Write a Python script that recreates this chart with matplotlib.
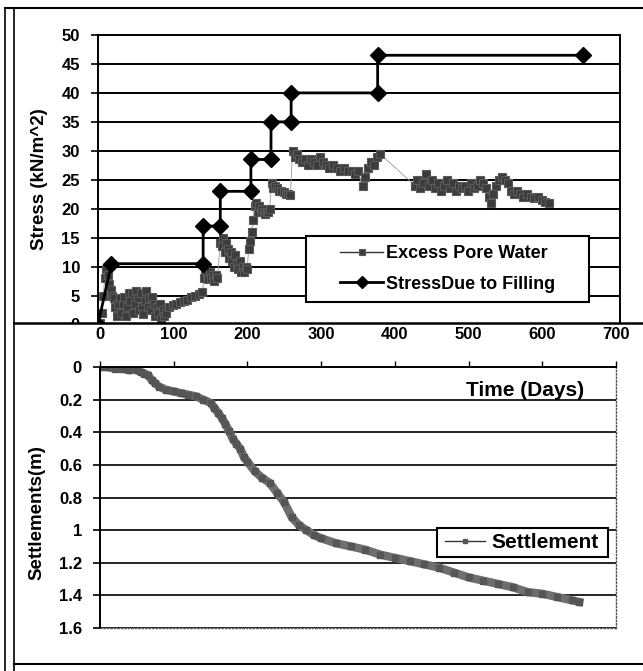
import matplotlib.pyplot as plt
from matplotlib.lines import Line2D
from matplotlib.patches import Rectangle

plt.rcParams['font.family'] = ['Liberation Sans', 'DejaVu Sans']
plt.rcParams['font.weight'] = 'bold'

# stress due to filling (stepped load history)
fill_days = [0, 18, 141, 141, 164, 164, 205, 205, 232, 232, 259, 259, 375, 375, 651]
fill_stress = [0, 10.5, 10.5, 17, 17, 23, 23, 28.5, 28.5, 35, 35, 40, 40, 46.5, 46.5]

# excess pore water pressure readings
pw_days = [0, 3, 5, 7, 9, 11, 13, 15, 17, 19,
           21, 23, 25, 27, 29, 31, 33, 35, 37, 39, 41, 43, 45, 47, 49, 51, 53, 55,
           57, 59, 61, 63, 65, 67, 69, 71, 73, 75, 77, 79, 81, 83, 85, 87, 89, 91,
           95, 100, 105, 110, 115, 120, 125, 130, 135, 140,
           142, 144, 146, 148, 150, 152, 154, 156, 158, 160,
           164, 166, 168, 170, 172, 174, 176, 178, 180, 182, 184, 186, 188, 190,
           192, 194, 196, 198, 200,
           202, 204, 206, 208, 210,
           212, 214, 216, 218, 220, 222, 224, 226, 228, 230,
           233, 235, 237, 240, 243, 246, 249, 252, 255, 258,
           261, 264, 267, 270, 274, 278, 282, 286, 290, 294, 298, 302, 306, 310,
           315, 320, 325, 330, 335, 340, 345, 348,
           355, 358, 362, 366, 370, 374, 378,
           425, 428, 432, 436, 440, 444, 448, 452, 456, 460, 464, 468, 472, 476,
           480, 484, 488, 492, 496, 500, 504, 508, 512, 516, 520, 524, 527, 530,
           534, 538, 542, 546, 550, 554, 558, 562, 566, 570, 575, 580, 585, 590,
           595, 600, 605]
pw_stress = [0, 0.3, 2, 5, 8, 9.5, 8.5, 7, 6, 5,
             4.5, 3, 1.5, 3.5, 4.5, 2, 3.5, 4.8, 1.5, 3, 5.5, 4, 5.5, 2, 3.5, 5.8, 4.5, 2.5,
             5.5, 3, 1.8, 4, 5.8, 3, 4.5, 2.5, 4.8, 3.5, 1.5, 3, 2, 3.5, 1, 2.5, 1.5, 2,
             3, 3.3, 3.6, 3.8, 4, 4.3, 4.8, 5, 5.3, 5.6,
             8, 9.5, 8.5, 7.8, 9, 8, 8.5, 7.5, 8.5, 8,
             14, 13.5, 15, 12.5, 14, 13, 11.5, 12.5, 11, 10, 12, 10.5, 9.5, 11,
             9, 10, 9, 10, 9.5,
             13, 14.5, 16, 18, 20.5,
             21, 19.5, 20.5, 19.5, 20, 19.5, 19, 19.5, 19.5, 20,
             24.5, 23.5, 24, 23.5, 23, 23, 22.8, 22.5, 22.5, 22.3,
             30, 29, 29.5, 28.5, 28, 28.5, 27.5, 28.5, 28, 27.5, 29, 28, 27.5, 27,
             27.5, 27, 26.5, 27, 26.5, 26.5, 26, 26.5,
             24, 25.5, 27, 28, 27.5, 29, 29.5,
             24, 25, 23.5, 24.5, 26, 24, 25, 23.5, 24.5, 23, 24, 25, 23.5, 24.5,
             23, 24, 23.5, 24, 23, 24.5, 23.5, 24, 25, 24.5, 23.5, 22, 21, 22.5,
             24, 25, 25.5, 25, 24.5, 23, 22.5, 23, 22.5, 22, 22.5, 22, 21.8, 22,
             21.5, 21.2, 21]

# settlement record
st_days = [0, 10, 20, 30, 40, 45, 50, 55, 60, 65, 70, 75, 80, 90, 100, 110, 120,
           130, 140, 150, 155, 160, 165, 170, 175, 180, 185, 190, 195, 200, 210,
           220, 230, 240, 250, 260, 270, 280, 290, 300, 320, 340, 360, 380, 400,
           420, 440, 460, 480, 500, 520, 540, 560, 580, 600, 620, 640, 650]
st_value = [0.0, 0.0, 0.01, 0.01, 0.02, 0.01, 0.02, 0.03, 0.04, 0.05, 0.08, 0.1,
            0.12, 0.14, 0.15, 0.16, 0.17, 0.18, 0.2, 0.22, 0.25, 0.28, 0.31, 0.35,
            0.39, 0.44, 0.47, 0.5, 0.55, 0.58, 0.64, 0.68, 0.71, 0.77, 0.83, 0.92,
            0.97, 1.0, 1.03, 1.05, 1.08, 1.1, 1.12, 1.15, 1.17, 1.19, 1.21, 1.23,
            1.26, 1.29, 1.31, 1.33, 1.35, 1.38, 1.39, 1.41, 1.43, 1.44]

stress_ticks = list(range(0, 51, 5))
settle_ticks = [0, 0.2, 0.4, 0.6, 0.8, 1, 1.2, 1.4, 1.6]
settle_labels = ['0', '0.2', '0.4', '0.6', '0.8', '1', '1.2', '1.4', '1.6']
day_ticks = list(range(0, 701, 100))

W, H = 643, 671
fig = plt.figure(figsize=(W / 100, H / 100), dpi=100)


def box(x0, y0, x1, y1):
    # pixel box (top-left origin) -> figure fraction rect
    return [x0 / W, 1 - y1 / H, (x1 - x0) / W, (y1 - y0) / H]


def fline(xs, ys, **kw):
    fig.add_artist(Line2D([x / W for x in xs], [1 - y / H for y in ys],
                          transform=fig.transFigure, **kw))


# ---- upper chart: stress ----
ax1 = fig.add_axes(box(98, 35, 620, 324.5))
ax1.set_zorder(0)
ax1.plot(pw_days, pw_stress, color='#999999', lw=0.6, marker='s', ms=6,
         mfc='#3c3c3c', mec='#5a5a5a', mew=0.8, label='Excess Pore Water')
ax1.plot(fill_days, fill_stress, color='black', lw=2, marker='D', ms=8,
         label='StressDue to Filling')
ax1.set_xlim(0, 700)
ax1.set_ylim(0, 50)
ax1.set_yticks(stress_ticks)
ax1.set_xticks([])
ax1.grid(axis='y', color='black', lw=1.4)
ax1.set_axisbelow(True)
for s in ax1.spines.values():
    s.set_color('black')
    s.set_linewidth(1.4)
ax1.tick_params(axis='y', direction='out', length=5, width=1.2, pad=8,
                labelsize=12)

ax1.add_patch(Rectangle((306 / W, 1 - 302 / H), 283 / W, 66 / H,
                        transform=fig.transFigure, facecolor='white',
                        edgecolor='black', lw=1.5, zorder=4, clip_on=False))
leg1 = ax1.legend(loc='center', bbox_to_anchor=((306 + 589) / 2 / W, 1 - 269 / H),
                  bbox_transform=fig.transFigure, frameon=False, fontsize=13,
                  handlelength=2.4, handletextpad=0.15, labelspacing=0.75,
                  markerscale=0.75)
leg1.set_zorder(5)
leg1.legend_handles[0].set_color('#333333')
leg1.legend_handles[0].set_linewidth(1)

fig.text(40 / W, 1 - 179 / H, 'Stress (kN/m^2)', rotation=90, ha='center',
         va='center', fontsize=13.5)

# white frame of the lower chart, lying over the bottom of the upper one
fig.add_artist(Rectangle((14 / W, 1 - 664 / H), (W - 14) / W, (664 - 323) / H,
                         transform=fig.transFigure, facecolor='white',
                         edgecolor='none', zorder=1))

# ---- lower chart: settlement ----
ax2 = fig.add_axes(box(100, 367, 616, 628))
ax2.set_zorder(2)
ax2.plot(st_days, st_value, color='#6e6e6e', lw=6, marker='s', ms=5,
         mfc='#555555', mec='#555555', label='Settlement')
ax2.set_xlim(0, 700)
ax2.set_ylim(1.6, 0)
ax2.set_yticks(settle_ticks)
ax2.set_yticklabels(settle_labels)
ax2.set_xticks(day_ticks)
ax2.xaxis.tick_top()
ax2.grid(axis='y', color='black', lw=1.2)
ax2.set_axisbelow(True)
ax2.spines['top'].set_linewidth(1.4)
ax2.spines['left'].set_linewidth(1.4)
for side in ('right', 'bottom'):
    ax2.spines[side].set_color('#555555')
    ax2.spines[side].set_linewidth(1)
    ax2.spines[side].set_linestyle((0, (1, 1.5)))
ax2.tick_params(axis='y', direction='out', length=5, width=1.2, pad=8,
                labelsize=12)
ax2.tick_params(axis='x', direction='out', length=4, width=1, pad=14,
                labelsize=12)

ax2.add_patch(Rectangle((437 / W, 1 - 557 / H), 171 / W, 29 / H,
                        transform=fig.transFigure, facecolor='white',
                        edgecolor='black', lw=1.5, zorder=4, clip_on=False))
leg2 = ax2.legend(loc='center', bbox_to_anchor=(522 / W, 1 - 542.5 / H),
                  bbox_transform=fig.transFigure, frameon=False, fontsize=15,
                  handlelength=1.9, handletextpad=0.3, markerscale=0.6)
leg2.set_zorder(5)
for h in leg2.legend_handles:
    h.set_linewidth(1)
    h.set_color('#333333')

fig.text(525 / W, 1 - 390 / H, 'Time (Days)', ha='center', va='center',
         fontsize=15, zorder=3)
fig.text(37 / W, 1 - 513 / H, 'Settlements(m)', rotation=90, ha='center',
         va='center', fontsize=13.5, zorder=3)

# outer frame lines
fline([5, W], [8, 8], color='black', lw=1.5, zorder=3)
fline([5, 5], [8, H], color='black', lw=1.2, zorder=3)
fline([14, 14], [8, H], color='black', lw=1.2, zorder=3)
fline([14, W], [323, 323], color='black', lw=1.8, zorder=3)
fline([14, W], [664, 664], color='black', lw=1.5, zorder=3)

fig.savefig('out.png', dpi=100)
